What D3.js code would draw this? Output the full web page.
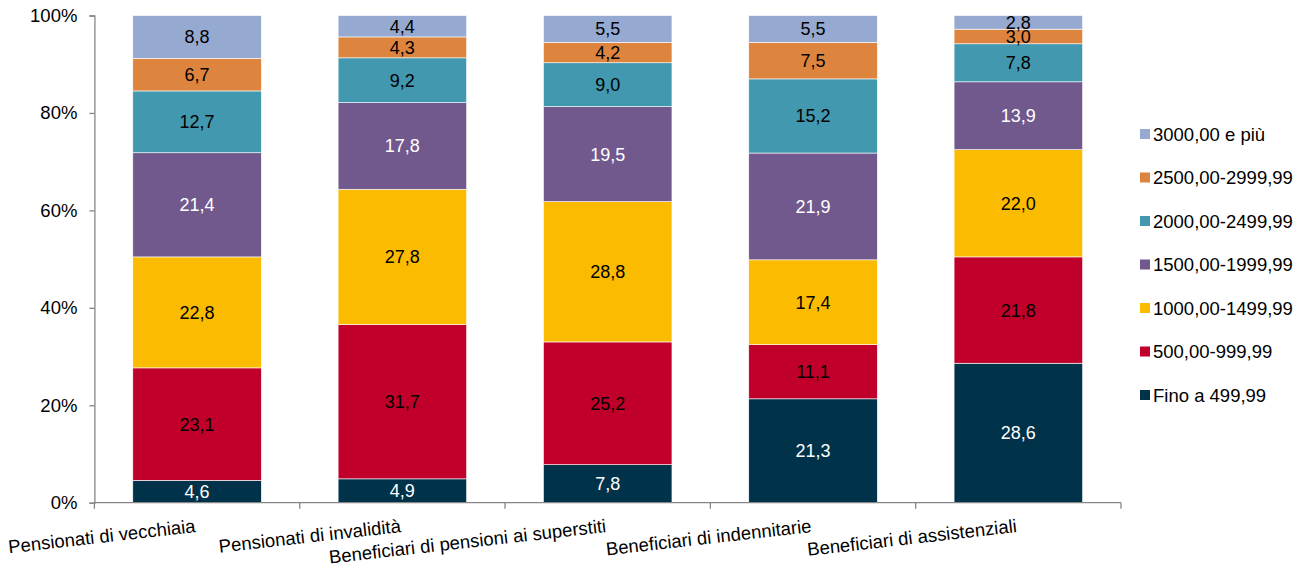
<!DOCTYPE html>
<html lang="it">
    <head>
        <meta charset="utf-8">
        <title>Pensionati per classe di importo</title>
        <script type="text/javascript" src="https://cdn.jsdelivr.net/npm/d3@7"></script>
        <style type="text/css">
            body { margin: 0; background: #fff; }
            text { font-family: "Liberation Sans", Arial, sans-serif; }
        </style>
    </head>
    <body>
        <script type="text/javascript">
        var categories = [
            "Pensionati di vecchiaia",
            "Pensionati di invalidità",
            "Beneficiari di pensioni ai superstiti",
            "Beneficiari di indennitarie",
            "Beneficiari di assistenziali"
        ];
        // classes from bottom to top
        var seriesNames = [
            "Fino a 499,99",
            "500,00-999,99",
            "1000,00-1499,99",
            "1500,00-1999,99",
            "2000,00-2499,99",
            "2500,00-2999,99",
            "3000,00 e più"
        ];
        var fino499   = [4.6, 4.9, 7.8, 21.3, 28.6];
        var da500     = [23.1, 31.7, 25.2, 11.1, 21.8];
        var da1000    = [22.8, 27.8, 28.8, 17.4, 22.0];
        var da1500    = [21.4, 17.8, 19.5, 21.9, 13.9];
        var da2000    = [12.7, 9.2, 9.0, 15.2, 7.8];
        var da2500    = [6.7, 4.3, 4.2, 7.5, 3.0];
        var da3000    = [8.8, 4.4, 5.5, 5.5, 2.8];
        var yTicks = [0, 0.2, 0.4, 0.6, 0.8, 1];

        var colors = ["#00324A", "#C0002A", "#FBBB00", "#71598D", "#4298AF", "#DD843F", "#95A9D1"];
        var labelColors = ["#fff", "#000", "#000", "#fff", "#000", "#000", "#000"];

        var allSeries = [fino499, da500, da1000, da1500, da2000, da2500, da3000];
        var table = categories.map(function(c, i) {
            var row = { cat: c };
            seriesNames.forEach(function(s, j) { row[s] = allSeries[j][i]; });
            return row;
        });

        var w = 1306;
        var h = 573;
        var svg = d3.select("body")
                    .append("svg")
                    .attr("width", w)
                    .attr("height", h);

        var x = d3.scaleBand()
            .domain(categories)
            .range([94.4, 1121])
            .paddingInner(0.374)
            .paddingOuter(0.187);

        var y = d3.scaleLinear()
            .domain([0, 1])
            .range([502.7, 15.5]);

        var stacked = d3.stack()
            .keys(seriesNames)
            .offset(d3.stackOffsetExpand)(table);

        // bars
        var groups = svg.selectAll("g.serie")
            .data(stacked)
            .enter()
            .append("g")
            .attr("class", "serie")
            .attr("fill", function(d, i) { return colors[i]; });

        groups.selectAll("rect")
            .data(function(d) { return d; })
            .enter()
            .append("rect")
            .attr("x", function(d) { return x(d.data.cat); })
            .attr("width", x.bandwidth())
            .attr("y", function(d) { return y(d[1]); })
            .attr("height", function(d) { return y(d[0]) - y(d[1]); })
            .attr("stroke", "#fff")
            .attr("stroke-width", 0.6);

        // value labels
        stacked.forEach(function(serie, i) {
            svg.append("g")
                .selectAll("text")
                .data(serie)
                .enter()
                .append("text")
                .attr("x", function(d) { return x(d.data.cat) + x.bandwidth() / 2; })
                .attr("y", function(d) { return (y(d[0]) + y(d[1])) / 2; })
                .attr("dy", "0.36em")
                .attr("text-anchor", "middle")
                .attr("font-size", "18px")
                .attr("fill", labelColors[i])
                .text(function(d) { return d.data[serie.key].toFixed(1).replace(".", ","); });
        });

        // y axis
        var yAxis = svg.append("g")
            .attr("transform", "translate(94.4,0)")
            .call(d3.axisLeft(y)
                .tickValues(yTicks)
                .tickSize(5)
                .tickPadding(12)
                .tickFormat(d3.format(".0%")));
        yAxis.selectAll("path, line").attr("stroke", "#868686").attr("stroke-width", 1.3);
        yAxis.selectAll("text").attr("font-size", "18.5px").attr("fill", "#000")
            .attr("font-family", "Liberation Sans, Arial, sans-serif");

        // x axis: line with ticks at band edges
        var step = x.step();
        var x0 = x.range()[0];
        var xAxis = svg.append("g");
        xAxis.append("line")
            .attr("x1", x0).attr("x2", x.range()[1])
            .attr("y1", y(0)).attr("y2", y(0))
            .attr("stroke", "#868686").attr("stroke-width", 1.3);
        xAxis.selectAll("line.tick")
            .data(d3.range(categories.length + 1))
            .enter()
            .append("line")
            .attr("class", "tick")
            .attr("x1", function(d) { return x0 + d * step; })
            .attr("x2", function(d) { return x0 + d * step; })
            .attr("y1", y(0)).attr("y2", y(0) + 6)
            .attr("stroke", "#868686").attr("stroke-width", 1.3);

        xAxis.selectAll("text")
            .data(categories)
            .enter()
            .append("text")
            .attr("transform", function(d) {
                return "translate(" + (x(d) + x.bandwidth() / 2 - 1) + ",532) rotate(-6.5)";
            })
            .attr("text-anchor", "end")
            .attr("font-size", "18.5px")
            .attr("fill", "#000")
            .text(function(d) { return d; });

        // legend (top to bottom: highest class first)
        var legend = svg.append("g")
            .selectAll("g")
            .data(seriesNames.slice().reverse())
            .enter()
            .append("g")
            .attr("transform", function(d, i) { return "translate(1140," + (134 + i * 43.5) + ")"; });

        legend.append("rect")
            .attr("x", 0)
            .attr("y", -5)
            .attr("width", 10)
            .attr("height", 10)
            .attr("fill", function(d) { return colors[seriesNames.indexOf(d)]; });

        legend.append("text")
            .attr("x", 13)
            .attr("dy", "0.36em")
            .attr("font-size", "18.5px")
            .attr("fill", "#000")
            .text(function(d) { return d; });
        </script>
    </body>
</html>
